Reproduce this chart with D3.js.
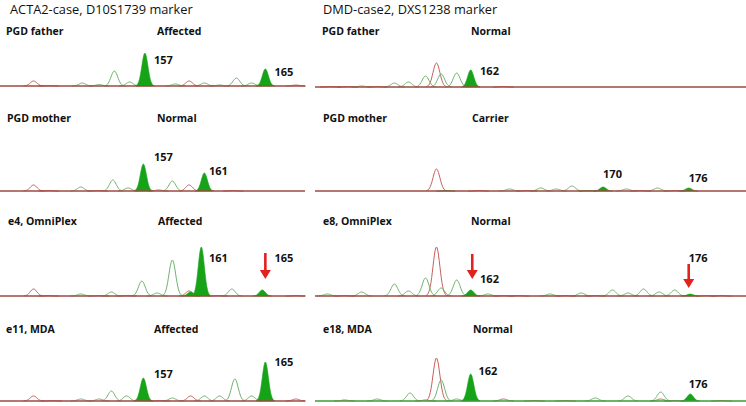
<!DOCTYPE html>
<html>
<head>
  <meta charset="UTF-8">
  <style>
    body { margin: 0; background: #fff; }
    svg { display: block; font-family: "Open Sans", sans-serif; }
  </style>
</head>
<body>
<svg></svg>
<script src="https://d3js.org/d3.v7.min.js"></script>
<script>

let width = 746, height = 406;

// peaks: [size (bp), height (RFU), kind]  A = called allele (filled), g = green trace, r = red trace
let fatherA = [[149.7,100,"r"],[150.7,10,"r"],[152.9,60,"g"],[154.0,30,"g"],[155.0,300,"g"],[156.0,80,"g"],
  [157.0,660,"A"],[159.0,40,"g"],[159.9,100,"r"],[160.9,60,"g"],[161.9,20,"g"],[163.0,160,"g"],[164.0,60,"g"],
  [164.9,340,"A"],[166.9,20,"r"]];
let motherA = [[149.7,120,"r"],[150.7,10,"r"],[152.8,80,"g"],[153.9,10,"r"],[154.9,220,"g"],[155.9,60,"g"],
  [156.9,540,"A"],[157.9,20,"r"],[158.8,200,"g"],[159.9,120,"r"],[160.9,360,"A"],[162.8,10,"r"]];
let e4A = [[149.7,140,"r"],[150.7,10,"r"],[152.8,40,"g"],[154.0,10,"r"],[154.8,80,"g"],[155.8,10,"r"],
  [156.8,300,"g"],[157.8,60,"g"],[158.8,720,"g"],[159.9,100,"r"],[160.0,80,"A"],[160.7,980,"A"],[161.8,10,"r"],
  [162.7,140,"g"],[164.7,120,"A"],[166.9,10,"r"]];
let e11A = [[149.7,100,"r"],[150.9,10,"r"],[152.8,40,"g"],[154.0,40,"g"],[154.8,200,"g"],[155.8,100,"g"],
  [156.9,460,"A"],[158.0,10,"r"],[158.8,60,"g"],[160.0,100,"r"],[160.9,100,"g"],[161.9,100,"g"],[162.9,440,"g"],
  [164.0,100,"g"],[164.9,780,"A"],[166.9,40,"r"]];

let fatherD = [[153.0,10,"r"],[154.1,10,"r"],[155.0,20,"g"],[156.0,10,"r"],[157.1,80,"g"],[158.0,100,"g"],
  [159.1,220,"g"],[159.8,480,"r"],[160.1,260,"g"],[161.1,280,"g"],[162.0,340,"A"],[164.1,10,"r"]];
let motherD = [[159.8,440,"r"],[160.4,10,"A"],[162.5,10,"r"],[164.5,40,"g"],[165.6,10,"r"],[166.5,60,"g"],
  [167.5,40,"g"],[168.5,100,"g"],[169.5,10,"A"],[170.5,80,"A"],[172.0,40,"g"],[172.9,10,"r"],[174.0,60,"g"],
  [175.1,10,"r"],[176.0,60,"A"]];
let e8D = [[152.8,40,"g"],[153.9,10,"r"],[155.0,80,"g"],[157.1,240,"g"],[158.0,100,"g"],[159.1,360,"g"],
  [159.8,980,"r"],[160.1,160,"g"],[161.1,320,"g"],[162.0,120,"A"],[163.1,40,"g"],[164.1,10,"r"],[165.1,10,"r"],
  [167.1,40,"g"],[168.1,10,"r"],[169.1,60,"g"],[170.0,10,"r"],[171.1,120,"g"],[172.1,60,"g"],[173.1,140,"g"],
  [174.1,80,"g"],[175.1,120,"g"],[176.1,40,"A"],[177.1,10,"r"],[178.1,10,"r"]];
let e18D = [[153.9,20,"r"],[156.0,40,"g"],[158.1,160,"g"],[159.1,20,"r"],[159.8,860,"r"],[160.1,420,"g"],
  [161.1,40,"g"],[162.0,540,"A"],[164.1,40,"r"],[166.1,10,"r"],[168.1,10,"r"],[170.0,60,"g"],[172.1,100,"g"],
  [174.2,180,"g"],[174.2,40,"r"],[175.1,10,"r"],[176.1,140,"A"],[178.1,10,"r"]];

// allele labels: [size of text start, text, height of text centre]
let fatherALabels = [[157.6,"157",540],[165.5,"165",300]];
let motherALabels = [[157.6,"157",700],[161.2,"161",420]];
let e4ALabels = [[161.2,"161",780],[165.5,"165",780]];
let e11ALabels = [[157.6,"157",560],[165.5,"165",800]];
let fatherDLabels = [[162.6,"162",340]];
let motherDLabels = [[170.5,"170",360],[176.0,"176",280]];
let e8DLabels = [[162.6,"162",360],[176.0,"176",780]];
let e18DLabels = [[162.5,"162",620],[176.0,"176",360]];

// drop-out arrows: [size, top height, tip height]
let e4AArrows = [[164.9,860,340]];
let e8DArrows = [[162.1,840,340],[176.0,640,160]];

let headers = ["ACTA2-case, D10S1739 marker", "DMD-case2, DXS1238 marker"];
let samplesA = ["PGD father", "PGD mother", "e4, OmniPlex", "e11, MDA"];
let samplesD = ["PGD father", "PGD mother", "e8, OmniPlex", "e18, MDA"];
let statusA = ["Affected", "Normal", "Affected", "Affected"];
let statusD = ["Normal", "Carrier", "Normal", "Normal"];

let svg = d3.select("svg")
    .attr("width", width)
    .attr("height", height);

let xA = d3.scaleLinear().domain([147.5, 167.5]).range([0, 305]);
let xD = d3.scaleLinear().domain([152, 179.68]).range([315, 746]);
let yH = d3.scaleLinear().domain([0, 1000]).range([0, 50]);

let baseA = [86, 191, 296, 401];
let baseD = [87, 191, 296, 401];
let labelY = [35, 122, 225, 333];

let cols = [
  {x: xA, base: baseA, peaks: [fatherA, motherA, e4A, e11A], labels: [fatherALabels, motherALabels, e4ALabels, e11ALabels],
   arrows: [[], [], e4AArrows, []], names: samplesA, status: statusA, nameX: [6, 7, 8, 6], statusX: [157, 157, 158, 154],
   line: ["#9c4a42", "#9c4a42", "#9c4a42", "#9c4a42"]},
  {x: xD, base: baseD, peaks: [fatherD, motherD, e8D, e18D], labels: [fatherDLabels, motherDLabels, e8DLabels, e18DLabels],
   arrows: [[], [], e8DArrows, []], names: samplesD, status: statusD, nameX: [322, 323, 323, 323], statusX: [471, 472, 471, 473],
   line: ["#9c4a42", "#9c4a42", "#9c4a42", "#3f9a3a"]}
];

let offs = d3.range(-3, 3.01, 0.2);
function shape(p, s) {
  return offs.map(k => [p[0] + k * s, p[1] * Math.exp(-k * k / 2)]);
}

let colors = {g: "#6db36a", r: "#c8605a", A: "#17a317"};

// headers
svg.selectAll(".header")
  .data(headers)
  .enter().append("text")
    .attr("class", "header")
    .attr("x", (d, i) => i == 0 ? 10 : 323)
    .attr("y", 14)
    .attr("font-size", 12.8)
    .attr("fill", "#111")
    .text(d => d);

cols.forEach(c => {
  for (let r = 0; r < 4; r++) {
    let base = c.base[r];
    let g = svg.append("g");

    let line = d3.line().x(d => c.x(d[0])).y(d => base - yH(d[1]));
    let area = d3.area().x(d => c.x(d[0])).y0(base).y1(d => base - yH(d[1]));

    let outline = c.peaks[r].filter(p => p[2] != "A");
    // red trace first, then green trace on top
    ["r", "g"].forEach(k => {
      g.selectAll(".pk" + k)
        .data(outline.filter(p => p[2] == k))
        .enter().append("path")
          .attr("d", p => line(shape(p, 0.22)))
          .attr("fill", "none")
          .attr("stroke", colors[k])
          .attr("stroke-width", 1);
    });

    g.selectAll(".allele")
      .data(c.peaks[r].filter(p => p[2] == "A"))
      .enter().append("path")
        .attr("d", p => area(shape(p, 0.2)))
        .attr("fill", colors.A)
        .attr("stroke", colors.A)
        .attr("stroke-width", 0.6);

    g.append("line")
      .attr("x1", c.x.range()[0]).attr("x2", c.x.range()[1])
      .attr("y1", base).attr("y2", base)
      .attr("stroke", c.line[r])
      .attr("stroke-width", 1.6);

    g.selectAll(".num")
      .data(c.labels[r])
      .enter().append("text")
        .attr("x", d => c.x(d[0]))
        .attr("y", d => base - yH(d[2]))
        .attr("dominant-baseline", "central")
        .attr("font-size", 11)
        .attr("font-weight", "bold")
        .attr("fill", "#111")
        .text(d => d[1]);

    c.arrows[r].forEach(a => {
      let ax = c.x(a[0]), y0 = base - yH(a[1]), y1 = base - yH(a[2]);
      g.append("line")
        .attr("x1", ax).attr("x2", ax)
        .attr("y1", y0).attr("y2", y1 - 7)
        .attr("stroke", "#e3221c")
        .attr("stroke-width", 2.6);
      g.append("path")
        .attr("d", "M" + (ax - 5.5) + "," + (y1 - 9) + "L" + (ax + 5.5) + "," + (y1 - 9) + "L" + ax + "," + y1 + "Z")
        .attr("fill", "#e3221c");
    });

    g.append("text")
      .attr("x", c.nameX[r])
      .attr("y", labelY[r])
      .attr("font-size", 10.5)
      .attr("font-weight", "bold")
      .attr("fill", "#111")
      .text(c.names[r]);

    g.append("text")
      .attr("x", c.statusX[r])
      .attr("y", labelY[r])
      .attr("font-size", 10.5)
      .attr("font-weight", "bold")
      .attr("fill", "#111")
      .text(c.status[r]);
  }
});

</script>
</body>
</html>
